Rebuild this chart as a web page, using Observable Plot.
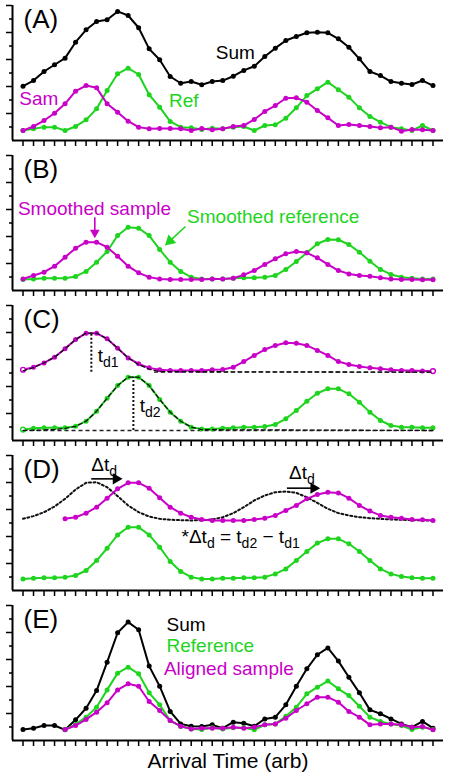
<!DOCTYPE html>
<html>
<head>
<meta charset="utf-8">
<script src="https://cdn.jsdelivr.net/npm/d3@7"></script>
<script src="https://cdn.jsdelivr.net/npm/@observablehq/plot@0.6"></script>
<style>
  html, body { margin: 0; padding: 0; background: #fff; }
  #chart svg { display: block; }
</style>
</head>
<body>
<div id="chart"></div>
<script>
// ---------- data ----------
const arrivalTime = [0,1,2,3,4,5,6,7,8,9,10,11,12,13,14,15,16,17,18,19,20,21,22,23,24,25,26,27,28,29,30,31,32,33,34,35,36,37,38,39];
const majorTicks = [2,4,6,8,10];
const minorTicks = [1,3,5,7,9];

// (A) raw
const sumA = [4.02,4.44,5.11,5.61,6.10,7.28,8.20,8.81,8.94,9.56,9.26,8.35,6.79,5.98,4.74,4.24,4.37,4.13,4.37,4.44,4.76,5.19,5.50,6.22,6.84,7.41,7.70,7.98,8.02,7.98,7.53,6.91,6.05,5.11,4.81,4.37,4.24,4.15,4.44,4.07];
const samA = [0.74,1.04,1.48,2.02,2.72,3.65,4.07,3.90,2.72,2.10,1.43,0.99,0.87,0.89,0.89,0.87,0.74,0.89,0.79,0.87,1.04,1.11,1.56,2.15,2.59,3.13,3.16,2.84,2.22,1.68,1.11,1.19,1.11,1.04,0.94,0.99,0.69,0.81,0.79,0.74];
const refA = [0.74,0.87,0.99,0.99,0.74,1.04,1.53,2.35,3.70,4.94,5.36,4.89,3.39,2.47,1.41,0.99,0.94,0.81,0.91,0.87,0.99,1.04,0.74,1.11,1.16,1.65,2.42,3.33,3.83,4.32,3.76,3.21,2.42,1.78,1.36,0.99,0.87,0.74,1.11,0.74];

// (B) smoothed
const samB = [0.86,1.11,1.36,1.80,2.47,3.13,3.58,3.58,3.21,2.54,1.80,1.31,0.99,0.86,0.81,0.81,0.81,0.81,0.86,0.86,0.91,1.16,1.48,1.93,2.35,2.72,2.89,2.79,2.42,1.93,1.48,1.23,1.11,1.06,0.94,0.86,0.81,0.81,0.79,0.79];
const refB = [0.81,0.86,0.91,0.91,0.91,1.04,1.41,2.10,2.89,4.07,4.69,4.61,4.07,3.04,2.10,1.41,0.99,0.86,0.86,0.86,0.91,0.94,0.94,0.99,1.11,1.56,2.15,2.79,3.46,3.78,3.76,3.41,2.84,2.17,1.56,1.19,0.99,0.91,0.86,0.86];

// (C) offset curves + fits
const samC = [5.24,5.43,5.75,6.17,6.79,7.48,7.95,7.95,7.53,6.84,6.12,5.68,5.38,5.24,5.19,5.19,5.19,5.19,5.24,5.26,5.43,5.85,6.30,6.74,7.04,7.24,7.21,7.04,6.67,6.30,5.85,5.63,5.48,5.38,5.31,5.24,5.19,5.19,5.14,5.14];
const refC = [0.81,0.91,0.94,0.94,0.94,1.06,1.43,2.17,3.13,4.07,4.69,4.69,4.07,3.04,2.10,1.43,0.99,0.86,0.86,0.91,0.94,0.99,0.99,1.04,1.19,1.61,2.22,2.91,3.50,3.83,3.83,3.46,2.84,2.10,1.48,1.11,0.99,0.99,0.94,0.94];
const fitSamT = [0,1,2,3,4,5,6,7,8,9,10,11,12,13,39];
const fitSamV = [5.16,5.40,5.75,6.17,6.79,7.48,7.95,7.95,7.53,6.84,6.12,5.62,5.28,5.10,5.06];
const fitRefT = [0,1,2,3,4,5,6,7,8,9,10,11,12,13,14,15,16,17,39];
const fitRefV = [0.74,0.76,0.78,0.82,0.90,1.04,1.43,2.17,3.13,4.07,4.69,4.69,4.07,3.04,2.10,1.43,0.99,0.80,0.74];
const tdT = [6.5, 10.5];
const tdLow = [5.06, 0.74];
const tdHigh = [7.95, 4.69];

// (D) shifted
const dotD = [5.31,5.51,5.80,6.22,6.79,7.48,7.98,8.02,7.65,6.99,6.30,5.80,5.48,5.31,5.24,5.21,5.19,5.21,5.26,5.43,5.73,6.17,6.67,7.04,7.28,7.33,7.23,6.91,6.49,6.05,5.73,5.56,5.43,5.36,5.31,5.26,5.24,5.21,5.19,5.19];
const samD = [null,null,null,null,5.31,5.43,5.73,6.17,6.84,7.53,7.98,7.98,7.58,6.87,6.17,5.73,5.43,5.26,5.19,5.19,5.19,5.19,5.26,5.36,5.56,5.93,6.30,6.79,7.11,7.28,7.23,6.84,6.30,5.88,5.56,5.43,5.36,5.26,5.24,5.19];
const refD = [0.86,0.91,0.94,0.94,0.99,1.11,1.48,2.22,3.13,4.12,4.69,4.69,4.12,3.21,2.15,1.41,0.99,0.86,0.86,0.91,0.91,0.94,0.94,0.99,1.23,1.60,2.22,2.89,3.51,3.83,3.83,3.46,2.89,2.22,1.60,1.23,1.04,0.94,0.91,0.91];

// (E) aligned
const sumE = [0.81,0.91,1.11,1.11,0.79,1.53,2.39,3.70,5.80,7.98,8.77,8.20,5.51,4.02,2.15,1.23,1.06,1.04,1.16,0.91,1.36,1.28,1.06,1.60,1.73,2.64,4.02,5.31,6.35,6.86,5.88,4.69,3.53,2.27,1.98,1.60,1.23,0.99,1.41,0.91];
const refE = [null,null,null,null,0.81,1.19,1.73,2.47,3.75,4.99,5.43,4.94,3.53,2.64,1.48,1.04,0.86,0.81,0.94,0.86,0.94,0.94,0.79,1.16,1.23,1.80,2.47,3.46,3.95,4.40,3.83,3.33,2.54,1.73,1.41,1.23,1.11,0.81,0.99,0.81];
const samE = [null,null,null,null,0.81,1.11,1.56,2.10,2.79,3.75,4.20,4.02,2.89,2.22,1.48,1.06,0.86,0.91,0.91,0.91,0.99,0.91,0.99,1.16,1.23,1.65,2.22,2.72,3.21,3.21,2.84,2.15,1.73,1.16,1.23,1.23,1.16,0.99,1.04,0.79];

// annotation arrows
const arrowB = {shaft: [{x1: 6.83, y1: 5.43, x2: 6.83, y2: 4.35}, {x1: 15.46, y1: 4.74, x2: 13.97, y2: 3.67}],
                head: [{x: 6.83, y: 4.29}, {x: 13.97, y: 3.67}]};
const arrowD = {shaft: [{x1: 6.49, y1: 8.27, x2: 8.85, y2: 8.27}, {x1: 25.1, y1: 7.58, x2: 27.65, y2: 7.58}],
                head: [{x: 8.85, y: 8.27}, {x: 27.65, y: 7.58}]};

// ---------- drawing ----------
const MAG = "#c800c8";
const GRN = "#1ed41e";
const FONT = "'Liberation Sans', Arial, Helvetica, sans-serif";

function rows(values, t = arrivalTime) {
  return t.map((x, i) => ({t: x, v: values[i]})).filter(d => d.v != null);
}
function series(values, color, extra = {}) {
  const data = rows(values);
  return [
    Plot.line(data, {x: "t", y: "v", stroke: color, strokeWidth: 2}),
    Plot.dot(data, {x: "t", y: "v", fill: color, r: 2.5, ...extra})
  ];
}
function label(txt, x, y, opts = {}) {
  return Plot.text([txt], {x: () => x, y: () => y, text: d => d, fontSize: 19, lineAnchor: "middle", ...opts});
}
function applySubs(svg) {
  d3.select(svg).selectAll("text").each(function () {
    const s = this.textContent;
    if (!s.includes("_{")) return;
    const parts = s.split(/(_\{[^}]*\})/);
    const el = d3.select(this);
    el.text(null);
    let sub = false;
    for (const p of parts) {
      if (!p) continue;
      if (p.startsWith("_{")) {
        el.append("tspan").attr("font-size", "14px").attr("dy", "5px").text(p.slice(2, -1));
        sub = true;
      } else {
        const ts = el.append("tspan").text(p);
        if (sub) ts.attr("dy", "-5px");
        sub = false;
      }
    }
  });
  return svg;
}
function panel(letter, marks, height = 150, marginBottom = 10) {
  const svg = Plot.plot({
    width: 450, height,
    marginLeft: 12, marginRight: 7, marginTop: 5, marginBottom,
    x: {domain: [-1, 40]},
    y: {domain: [0, 10]},
    style: {fontFamily: FONT, background: "white", overflow: "visible"},
    marks: [
      Plot.axisX({ticks: arrivalTime, tickSize: 6, tickFormat: () => "", strokeWidth: 1.5, label: null}),
      Plot.axisY({ticks: majorTicks, tickSize: 6, tickFormat: () => "", strokeWidth: 1.5, label: null}),
      Plot.axisY({ticks: minorTicks, tickSize: 3, tickFormat: () => "", strokeWidth: 1.5, label: null}),
      Plot.ruleX([-1], {strokeWidth: 2}),
      Plot.ruleY([0], {strokeWidth: 2}),
      ...marks,
      Plot.text([letter], {frameAnchor: "top-left", text: d => d, fontSize: 26, textAnchor: "start", lineAnchor: "top", dx: 11, dy: 4.5})
    ]
  });
  return applySubs(svg);
}

const root = document.getElementById("chart");

// (A)
root.append(panel("(A)", [
  ...series(sumA, "black"),
  ...series(refA, GRN),
  ...series(samA, MAG),
  label("Sum", 20.2, 6.47),
  label("Sam", 1.5, 3.06, {fill: MAG}),
  label("Ref", 15.3, 2.96, {fill: GRN})
]));

// (B)
root.append(panel("(B)", [
  ...series(refB, GRN),
  ...series(samB, MAG),
  label("Smoothed sample", 6.8, 6.07, {fill: MAG}),
  label("Smoothed reference", 23.8, 5.43, {fill: GRN}),
  Plot.link(arrowB.shaft, {x1: "x1", y1: "y1", x2: "x2", y2: "y2", stroke: (d, i) => i === 0 ? MAG : GRN, strokeWidth: 1.6}),
  Plot.dot(arrowB.head.slice(0, 1), {x: "x", y: "y", symbol: "triangle", r: 3.6, rotate: 180, fill: MAG}),
  Plot.dot(arrowB.head.slice(1), {x: "x", y: "y", symbol: "triangle", r: 4.3, rotate: 227.5, fill: GRN})
]));

// (C)
const endIdx = [0, 39];
root.append(panel("(C)", [
  Plot.ruleY([5.06], {x1: 12.5, x2: 39, stroke: "#222", strokeWidth: 1.3, strokeDasharray: "4,3"}),
  Plot.ruleY([0.74], {x1: 0, x2: 39, stroke: "#222", strokeWidth: 1.3, strokeDasharray: "4,3"}),
  ...series(refC, GRN),
  ...series(samC, MAG),
  Plot.dot(rows(samC).filter(d => endIdx.includes(d.t)), {x: "t", y: "v", r: 2.4, fill: "white", stroke: MAG, strokeWidth: 1.4}),
  Plot.dot(rows(refC).filter(d => d.t === 0), {x: "t", y: "v", r: 2.4, fill: "white", stroke: GRN, strokeWidth: 1.4}),
  Plot.line(rows(fitSamV, fitSamT), {x: "t", y: "v", stroke: "#111", strokeWidth: 1.3, strokeDasharray: "4,3"}),
  Plot.line(rows(fitRefV, fitRefT), {x: "t", y: "v", stroke: "#111", strokeWidth: 1.3, strokeDasharray: "4,3"}),
  Plot.ruleX(tdT, {y1: (d, i) => tdLow[i], y2: (d, i) => tdHigh[i], stroke: "#111", strokeWidth: 2, strokeDasharray: "2,2"}),
  label("t_{d1}", 7.1, 6.23, {textAnchor: "start"}),
  label("t_{d2}", 11.1, 2.53, {textAnchor: "start"})
]));

// (D)
root.append(panel("(D)", [
  Plot.line(rows(dotD), {x: "t", y: "v", stroke: "#111", strokeWidth: 2, strokeDasharray: "2,2.5"}),
  ...series(refD, GRN),
  ...series(samD, MAG),
  Plot.link(arrowD.shaft, {x1: "x1", y1: "y1", x2: "x2", y2: "y2", stroke: "black", strokeWidth: 1.6}),
  Plot.dot(arrowD.head, {x: "x", y: "y", symbol: "triangle", r: 4.2, rotate: 90, fill: "black"}),
  label("Δt_{d}", 6.49, 9.32, {textAnchor: "start"}),
  label("Δt_{d}", 25.3, 8.7, {textAnchor: "start"}),
  label("*Δt_{d} = t_{d2} − t_{d1}", 20.7, 4.0)
]));

// (E)
root.append(panel("(E)", [
  ...series(sumE, "black"),
  ...series(refE, GRN),
  ...series(samE, MAG),
  label("Sum", 13.65, 8.59, {textAnchor: "start"}),
  label("Reference", 13.65, 6.99, {textAnchor: "start", fill: GRN}),
  label("Aligned sample", 13.4, 5.31, {textAnchor: "start", fill: MAG}),
  Plot.text(["Arrival Time (arb)"], {frameAnchor: "bottom", text: d => d, dy: 21, fontSize: 21, lineAnchor: "middle"})
], 177, 37));
</script>
</body>
</html>
